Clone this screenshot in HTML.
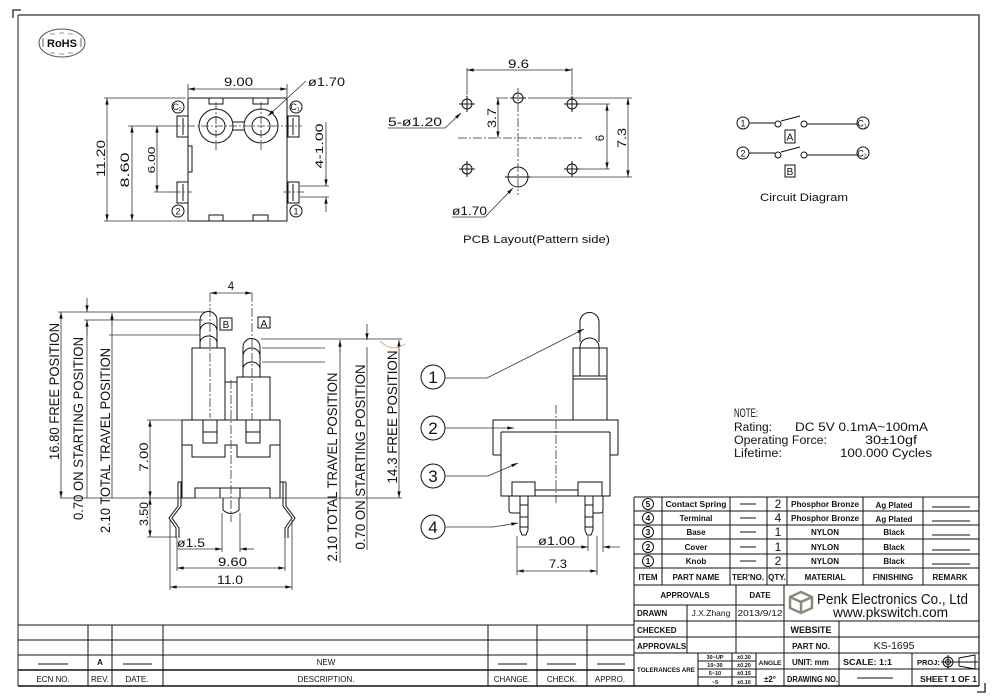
<!DOCTYPE html>
<html><head><meta charset="utf-8"><style>
html,body{margin:0;padding:0;background:#fff;}
svg{display:block;}
text{font-family:"Liberation Sans","DejaVu Sans",sans-serif;fill:#111;}
.b{font-weight:bold;}
</style></head><body>
<svg width="1000" height="700" viewBox="0 0 1000 700" xmlns="http://www.w3.org/2000/svg">
<defs>
<marker id="ar" viewBox="0 0 10 6" refX="10" refY="3" markerWidth="7" markerHeight="4" orient="auto-start-reverse" markerUnits="userSpaceOnUse"><path d="M0,0.5 L10,3 L0,5.5z" fill="#111"/></marker>
</defs>
<rect width="1000" height="700" fill="#fff"/>

<!-- FRAME -->
<g fill="none" stroke="#222">
<path d="M13,18 V10 H21" stroke-width="1.3"/>
<path d="M18,15 H979 V686" stroke="#555" stroke-width="1.6"/>
<path d="M18,15 V686" stroke="#444" stroke-width="1.2"/>
<path d="M977,692 H985 V683" stroke-width="1.3"/>
</g>

<!-- RoHS -->
<g fill="none" stroke="#555">
<ellipse cx="62" cy="43" rx="23" ry="14"/>
<path d="M50,34 h5 M59,33 h5 M68,34 h5 M50,53 h5 M59,54 h5 M68,53 h5" stroke="#999"/>
<path d="M43,38 v9 M81,38 v9" stroke="#666"/>
</g>
<text x="62" y="47" font-size="11" class="b" text-anchor="middle" fill="#333">RoHS</text>

<!-- TOP VIEW -->
<g fill="none" stroke="#111" stroke-width="1">
<rect x="188" y="98" width="99" height="123"/>
<path d="M209,98 v6 h14 v-6 M253,98 v6 h15 v-6 M209,221 v-6 h14 v6 M253,221 v-6 h15 v6"/>
<circle cx="216" cy="126" r="17"/><circle cx="216" cy="126" r="9"/>
<circle cx="261" cy="126" r="17"/><circle cx="261" cy="126" r="9"/>
<path d="M233,122 h11 M233,130 h11"/>
<rect x="177" y="116" width="11" height="21"/><rect x="177" y="182" width="11" height="21"/>
<rect x="288" y="116" width="11" height="21"/><rect x="288" y="182" width="11" height="21"/>
<path d="M183,118 v17 M183,184 v17 M293,118 v17 M293,184 v17"/>
<rect x="188" y="146" width="4" height="26"/>
<circle cx="178" cy="107" r="6"/><circle cx="296" cy="107" r="6"/>
<circle cx="178" cy="211" r="6"/><circle cx="296" cy="211" r="6"/>
</g>
<path d="M173,126 H302 M216,102 V150 M261,102 V150 M173,192 H192 M283,192 H304" fill="none" stroke="#333" stroke-width="0.8" stroke-dasharray="8 2 2 2"/>
<g font-size="9" text-anchor="middle">
<text x="177" y="110">C<tspan font-size="5" dy="1">2</tspan></text>
<text x="295" y="110">C<tspan font-size="5" dy="1">1</tspan></text>
<text x="178" y="214.5">2</text><text x="296" y="214.5">1</text>
</g>
<!-- top view dims -->
<g fill="none" stroke="#333" stroke-width="0.8">
<path d="M188,97 V84 M287,97 V84"/>
<path d="M188,89 H287" marker-start="url(#ar)" marker-end="url(#ar)"/>
<path d="M306,81 L268,116" marker-end="url(#ar)"/>
<path d="M104,98 H186 M104,221 H186 M128,126 H173 M154,192 H175"/>
<path d="M107,98 V221" marker-start="url(#ar)" marker-end="url(#ar)"/>
<path d="M132,126 V221" marker-start="url(#ar)" marker-end="url(#ar)"/>
<path d="M157,126 V192" marker-start="url(#ar)" marker-end="url(#ar)"/>
<path d="M300,186 H329 M300,197 H329 M326,122 V178"/>
<path d="M326,176 V186" marker-end="url(#ar)"/>
<path d="M326,212 V197" marker-end="url(#ar)"/>
</g>
<text x="238.5" y="86" font-size="11.5" text-anchor="middle" textLength="29" lengthAdjust="spacingAndGlyphs">9.00</text>
<text x="308" y="86" font-size="11.5" textLength="37" lengthAdjust="spacingAndGlyphs">ø1.70</text>
<text transform="translate(105,158.5) rotate(-90)" font-size="12" text-anchor="middle" textLength="37" lengthAdjust="spacingAndGlyphs">11.20</text>
<text transform="translate(129,170) rotate(-90)" font-size="12" text-anchor="middle" textLength="35" lengthAdjust="spacingAndGlyphs">8.60</text>
<text transform="translate(155,160) rotate(-90)" font-size="10.5" text-anchor="middle" textLength="27" lengthAdjust="spacingAndGlyphs">6.00</text>
<text transform="translate(323,146) rotate(-90)" font-size="11" text-anchor="middle" textLength="45" lengthAdjust="spacingAndGlyphs">4-1.00</text>

<!-- PCB LAYOUT -->
<g fill="none" stroke="#111" stroke-width="1">
<circle cx="467" cy="104" r="5"/><circle cx="518" cy="98" r="5"/><circle cx="572" cy="104" r="5"/>
<circle cx="467" cy="169" r="5"/><circle cx="572" cy="169" r="5"/>
<circle cx="518" cy="177" r="10"/>
<path d="M459,104 h16 M467,96 v16 M510,98 h16 M572,96 v16 M564,104 h16 M459,169 h16 M467,161 v16 M564,169 h16 M572,161 v16 M505,177 h26"/>
</g>
<path d="M458,138 H582 M518,88 V195" fill="none" stroke="#333" stroke-width="0.8" stroke-dasharray="9 2 2 2"/>
<g fill="none" stroke="#333" stroke-width="0.8">
<path d="M467,68 V95 M572,68 V95"/>
<path d="M467,70 H572" marker-start="url(#ar)" marker-end="url(#ar)"/>
<path d="M496,98 H508 M528,98 H632 M530,177 H632 M578,104 H610 M578,169 H610"/>
<path d="M628,98 V177" marker-start="url(#ar)" marker-end="url(#ar)"/>
<path d="M607,104 V169" marker-start="url(#ar)" marker-end="url(#ar)"/>
<path d="M498,98 V138" marker-start="url(#ar)" marker-end="url(#ar)"/>
<path d="M388,128 H445 L461,113" marker-end="url(#ar)"/>
<path d="M452,217 H485 L513,188" marker-end="url(#ar)"/>
</g>
<text x="518.5" y="68" font-size="11.5" text-anchor="middle" textLength="21" lengthAdjust="spacingAndGlyphs">9.6</text>
<text x="388" y="126" font-size="12" textLength="54" lengthAdjust="spacingAndGlyphs">5-ø1.20</text>
<text x="452" y="215" font-size="12" textLength="35" lengthAdjust="spacingAndGlyphs">ø1.70</text>
<text transform="translate(496,118) rotate(-90)" font-size="11.5" text-anchor="middle" textLength="20" lengthAdjust="spacingAndGlyphs">3.7</text>
<text transform="translate(604,138) rotate(-90)" font-size="11.5" text-anchor="middle">6</text>
<text transform="translate(626,138) rotate(-90)" font-size="11.5" text-anchor="middle" textLength="20" lengthAdjust="spacingAndGlyphs">7.3</text>
<text x="536.5" y="243" font-size="11" text-anchor="middle" textLength="147" lengthAdjust="spacingAndGlyphs">PCB Layout(Pattern side)</text>

<!-- CIRCUIT -->
<g fill="none" stroke="#111" stroke-width="1">
<circle cx="743" cy="123" r="6"/><circle cx="863" cy="123" r="6"/>
<circle cx="743" cy="153" r="6"/><circle cx="863" cy="153" r="6"/>
<path d="M749,123 H775 M807,124 H857 M749,153 H775 M807,155 H857"/>
<circle cx="778" cy="124" r="3"/><circle cx="804" cy="124" r="3"/>
<circle cx="778" cy="155" r="3"/><circle cx="804" cy="155" r="3"/>
<path d="M781,121 L800,116 M781,152 L800,147"/>
<rect x="785" y="130" width="10" height="13"/><rect x="785" y="165" width="10" height="12"/>
</g>
<g font-size="9" text-anchor="middle">
<text x="743" y="126.5">1</text><text x="743" y="156.5">2</text>
<text x="862" y="126.5">C<tspan font-size="5" dy="1">1</tspan></text>
<text x="862" y="156.5">C<tspan font-size="5" dy="1">2</tspan></text>
<text x="790" y="140.5" font-size="10">A</text><text x="790" y="175" font-size="10">B</text>
</g>
<text x="804" y="201" font-size="11" text-anchor="middle" textLength="88" lengthAdjust="spacingAndGlyphs">Circuit Diagram</text>

<!-- LEFT SIDE VIEW -->
<g fill="none" stroke="#111" stroke-width="1">
<path d="M200,348 V320 A8.5,8.5 0 0 1 217,320 V348"/>
<path d="M200,331 A8.5,8 0 0 1 217,331 M200,343 A8.5,7 0 0 1 217,343"/>
<rect x="192" y="348" width="33" height="72"/>
<path d="M243,377 V347 A8.5,8.5 0 0 1 260,347 V377"/>
<path d="M243,356 A8.5,8 0 0 1 260,356 M243,369 A8.5,7 0 0 1 260,369"/>
<rect x="237" y="377" width="33" height="43"/>
<path d="M225,420 V382 H237"/>
<path d="M182,420 H280 V498 H270 V488 H195 V498 H182 Z"/>
<rect x="203" y="420" width="14" height="23"/><path d="M203,432 h14"/>
<rect x="246" y="420" width="14" height="23"/><path d="M246,432 h14"/>
<path d="M182,445 H192 V457 H225 V445 H237 V457 H270 V445 H280"/>
<path d="M220,498 V488 M240,498 V488"/>
<path d="M223,498 V510 Q231,517 239,510 V498"/>
<path d="M178,482 V506 L169,518 L176,528 V538 M181,482 V506 L172,518 L179,528 V538 M178,482 H182"/>
<path d="M283,482 V506 L292,518 L285,528 V538 M286,482 V506 L295,518 L288,528 V538 M280,482 H286"/>
<rect x="220" y="318" width="12" height="12"/><rect x="258" y="317" width="12" height="11"/>
</g>
<path d="M210,293 V418 M252,293 V420 M231,380 V522" fill="none" stroke="#333" stroke-width="0.8" stroke-dasharray="9 2 2 2"/>
<text x="226" y="328" font-size="10" text-anchor="middle">B</text>
<text x="264" y="327" font-size="10" text-anchor="middle">A</text>
<g fill="none" stroke="#333" stroke-width="0.8">
<path d="M210,293 H252" marker-start="url(#ar)" marker-end="url(#ar)"/>
<path d="M58,312 H206 M84,320 H203 M109,335 H200 M60,498 H402"/>
<path d="M61,312 V498" marker-start="url(#ar)" marker-end="url(#ar)"/>
<path d="M87,320 V498"/>
<path d="M87,298 V312" marker-end="url(#ar)"/>
<path d="M87,335 V320" marker-end="url(#ar)"/>
<path d="M112,313 V498"/>
<path d="M112,325 V313" marker-end="url(#ar)"/>
<path d="M147,420 H182 M147,537 H177"/>
<path d="M150,420 V498" marker-start="url(#ar)" marker-end="url(#ar)"/>
<path d="M150,498 V537" marker-start="url(#ar)" marker-end="url(#ar)"/>
<path d="M222,513 V552 M240,513 V552"/>
<path d="M177,549 H222" marker-end="url(#ar)"/>
<path d="M254,549 H240" marker-end="url(#ar)"/>
<path d="M177,538 V571 M285,538 V571 M170,520 V590 M292,520 V590"/>
<path d="M177,568 H285" marker-start="url(#ar)" marker-end="url(#ar)"/>
<path d="M170,587 H292" marker-start="url(#ar)" marker-end="url(#ar)"/>
<!-- middle dims -->
<path d="M261,339 H402 M262,348 H325 M262,362 H325"/>
<path d="M340,340 V563"/>
<path d="M340,352 V340" marker-end="url(#ar)"/>
<path d="M367,347 V550"/>
<path d="M367,324 V340" marker-end="url(#ar)"/>
<path d="M399,340 V498" marker-start="url(#ar)" marker-end="url(#ar)"/>
</g>
<path d="M380,341 Q392,353 405,344" fill="none" stroke="#f0a070" stroke-width="1"/>
<text x="231" y="290" font-size="11.5" text-anchor="middle">4</text>
<text transform="translate(59,391.5) rotate(-90)" font-size="13.5" text-anchor="middle" textLength="137" lengthAdjust="spacingAndGlyphs">16.80 FREE POSITION</text>
<text transform="translate(83,428.5) rotate(-90)" font-size="13.5" text-anchor="middle" textLength="183" lengthAdjust="spacingAndGlyphs">0.70 ON STARTING POSITION</text>
<text transform="translate(110,440.5) rotate(-90)" font-size="13.5" text-anchor="middle" textLength="185" lengthAdjust="spacingAndGlyphs">2.10 TOTAL TRAVEL POSITION</text>
<text transform="translate(148,457) rotate(-90)" font-size="12" text-anchor="middle" textLength="29" lengthAdjust="spacingAndGlyphs">7.00</text>
<text transform="translate(148,514) rotate(-90)" font-size="12" text-anchor="middle" textLength="24" lengthAdjust="spacingAndGlyphs">3.50</text>
<text x="177" y="547" font-size="12" textLength="28" lengthAdjust="spacingAndGlyphs">ø1.5</text>
<text x="232.5" y="566" font-size="12" text-anchor="middle" textLength="29" lengthAdjust="spacingAndGlyphs">9.60</text>
<text x="230" y="584" font-size="12" text-anchor="middle" textLength="26" lengthAdjust="spacingAndGlyphs">11.0</text>
<text transform="translate(337,467) rotate(-90)" font-size="13.5" text-anchor="middle" textLength="189" lengthAdjust="spacingAndGlyphs">2.10 TOTAL TRAVEL POSITION</text>
<text transform="translate(365,457) rotate(-90)" font-size="13.5" text-anchor="middle" textLength="185" lengthAdjust="spacingAndGlyphs">0.70 ON STARTING POSITION</text>
<text transform="translate(397,417) rotate(-90)" font-size="13.5" text-anchor="middle" textLength="133" lengthAdjust="spacingAndGlyphs">14.3 FREE POSITION</text>

<!-- RIGHT VIEW -->
<g fill="none" stroke="#111" stroke-width="1">
<path d="M580,342 V322 A9.5,9.5 0 0 1 599,322 V342"/>
<path d="M580,376 V347 A9.5,9 0 0 1 599,347 V376"/>
<rect x="573" y="348" width="34" height="72"/>
<path d="M573,376 H607 M573,379 H607"/>
<path d="M493,455 V420 H618 V455 M501,432 H610 M493,455 H501 M610,455 H618"/>
<path d="M501,432 V496 H610 V432"/>
<rect x="512" y="482" width="23" height="14"/><rect x="578" y="482" width="24" height="14"/>
<path d="M535,490 H578"/>
<path d="M520,496 V530 L522,535 H526 L528,530 V496 M520,505 h8 M520,517 h8 M520,527 h8 M509,496 V510 Q509,513 512,513 H520"/>
<path d="M585,496 V530 L587,535 H591 L593,530 V496 M585,505 h8 M585,517 h8 M585,527 h8 M603,496 V510 Q603,513 600,513 H593"/>
<circle cx="433" cy="377" r="12"/><circle cx="433" cy="428" r="12"/>
<circle cx="433" cy="476" r="12"/><circle cx="433" cy="527" r="12"/>
</g>
<path d="M556,405 V503" fill="none" stroke="#333" stroke-width="0.8" stroke-dasharray="9 2 2 2"/>
<g fill="none" stroke="#333" stroke-width="0.8">
<path d="M445,378 H487 L584,329" marker-end="url(#ar)"/>
<path d="M445,428 H514" marker-end="url(#ar)"/>
<path d="M445,476 H488 L518,463" marker-end="url(#ar)"/>
<path d="M445,527 H493 L518,523" marker-end="url(#ar)"/>
<path d="M517,536 V575 M597,536 V575 M588,536 V551 M603,512 V552"/>
<path d="M517,547 H588" marker-end="url(#ar)"/>
<path d="M620,547 H603" marker-end="url(#ar)"/>
<path d="M517,571 H597" marker-start="url(#ar)" marker-end="url(#ar)"/>
</g>
<g font-size="17" text-anchor="middle">
<text x="433" y="383">1</text><text x="433" y="434">2</text>
<text x="433" y="482">3</text><text x="433" y="533">4</text>
</g>
<text x="538" y="545" font-size="12" textLength="37" lengthAdjust="spacingAndGlyphs">ø1.00</text>
<text x="558" y="568" font-size="12" text-anchor="middle" textLength="18" lengthAdjust="spacingAndGlyphs">7.3</text>

<!-- NOTES -->
<g font-size="11.5">
<text x="734" y="417" textLength="24" lengthAdjust="spacingAndGlyphs">NOTE:</text>
<text x="734" y="431" textLength="38" lengthAdjust="spacingAndGlyphs">Rating:</text>
<text x="795" y="431" textLength="133" lengthAdjust="spacingAndGlyphs">DC 5V 0.1mA~100mA</text>
<text x="734" y="444" textLength="93" lengthAdjust="spacingAndGlyphs">Operating Force:</text>
<text x="865" y="444" textLength="52" lengthAdjust="spacingAndGlyphs">30±10gf</text>
<text x="734" y="457" textLength="48" lengthAdjust="spacingAndGlyphs">Lifetime:</text>
<text x="840" y="457" textLength="92" lengthAdjust="spacingAndGlyphs">100.000 Cycles</text>
</g>

<!-- BOM TABLE -->
<g fill="none" stroke="#111" stroke-width="1">
<path d="M634,497 H979 M634,511 H979 M634,525 H979 M634,539 H979 M634,554 H979 M634,568 H979 M634,585 H979"/>
<path d="M634,497 V686 M662,497 V585 M730,497 V585 M767,497 V585 M787,497 V585 M863,497 V585 M923,497 V585"/>
<path d="M740,504 h16 M740,518 h16 M740,532 h16 M740,547 h16 M740,561 h16"/>
<path d="M932,507 h38 M932,521 h38 M932,535 h38 M932,550 h38 M932,564 h38"/>
<circle cx="648" cy="504" r="5.5"/><circle cx="648" cy="518" r="5.5"/><circle cx="648" cy="532" r="5.5"/>
<circle cx="648" cy="547" r="5.5"/><circle cx="648" cy="561" r="5.5"/>
</g>
<g font-size="8" class="b" text-anchor="middle">
<text x="648" y="507" font-size="8.5">5</text><text x="648" y="521" font-size="8.5">4</text><text x="648" y="535" font-size="8.5">3</text>
<text x="648" y="550" font-size="8.5">2</text><text x="648" y="564" font-size="8.5">1</text>
<text x="696" y="507" textLength="61" lengthAdjust="spacingAndGlyphs">Contact Spring</text>
<text x="696" y="521">Terminal</text><text x="696" y="535">Base</text>
<text x="696" y="550">Cover</text><text x="696" y="564">Knob</text>
<text x="778" y="508" font-size="12" font-weight="normal">2</text>
<text x="778" y="522" font-size="12" font-weight="normal">4</text>
<text x="778" y="536" font-size="12" font-weight="normal">1</text>
<text x="778" y="551" font-size="12" font-weight="normal">1</text>
<text x="778" y="565" font-size="12" font-weight="normal">2</text>
<text x="825" y="507" textLength="68" lengthAdjust="spacingAndGlyphs">Phosphor Bronze</text>
<text x="825" y="521" textLength="68" lengthAdjust="spacingAndGlyphs">Phosphor Bronze</text>
<text x="825" y="535">NYLON</text><text x="825" y="550">NYLON</text><text x="825" y="564">NYLON</text>
<text x="894" y="508">Ag Plated</text><text x="894" y="522">Ag Plated</text>
<text x="894" y="535">Black</text><text x="894" y="550">Black</text><text x="894" y="564">Black</text>
<text x="648" y="580">ITEM</text><text x="696" y="580">PART NAME</text>
<text x="748" y="580">TER'NO.</text><text x="777" y="580">QTY.</text>
<text x="825" y="580">MATERIAL</text><text x="893" y="580">FINISHING</text><text x="950" y="580">REMARK</text>
</g>

<!-- APPROVALS / TITLE BLOCK -->
<g fill="none" stroke="#111" stroke-width="1">
<path d="M634,605 H784 M634,621 H979 M634,637 H979 M634,653 H979 M784,669 H979"/>
<path d="M18,686 H979" stroke-width="1.4"/>
<path d="M687,605 V653 M736,585 V653 M784,585 V686 M839,621 V686 M912,653 V686"/>
<path d="M698,653 V686 M732,653 V686 M756,653 V686 M698,661 H756 M698,669 H756 M698,677 H756 M756,669 H784"/>
<!-- revision table -->
<path d="M18,625 H634 M18,640 H634 M18,655 H634"/>
<path d="M18,670 H634" stroke-width="1.4"/>
<path d="M88,625 V686 M112,625 V686 M163,625 V686 M488,625 V686 M537,625 V686 M587,625 V686"/>
<path d="M38,664 h30 M123,664 h29 M498,664 h29 M547,664 h29 M597,664 h28"/>
<path d="M857,678 h36"/>
<!-- projection symbol -->
<circle cx="948" cy="662" r="5"/><circle cx="948" cy="662" r="2.5"/>
<path d="M941,662 h14 M948,655 v14 M955,662 H978 M959,658 L975,655 V669 L959,666 Z"/>
</g>
<g font-size="8" class="b">
<text x="685" y="598" text-anchor="middle">APPROVALS</text>
<text x="760" y="598" text-anchor="middle">DATE</text>
<text x="637" y="616">DRAWN</text>
<text x="711" y="616" text-anchor="middle" font-weight="normal" font-size="8.5">J.X.Zhang</text>
<text x="760" y="616" text-anchor="middle" font-weight="normal" font-size="8.5" textLength="45" lengthAdjust="spacingAndGlyphs">2013/9/12</text>
<text x="637" y="633">CHECKED</text>
<text x="637" y="649">APPROVALS</text>
<text x="637" y="672" font-size="6.5" textLength="58" lengthAdjust="spacingAndGlyphs">TOLERANCES ARE</text>
<text x="770" y="665" text-anchor="middle" font-size="6.5">ANGLE</text>
<text x="770" y="682" text-anchor="middle">±2°</text>
<text x="811" y="633" text-anchor="middle" font-size="9">WEBSITE</text>
<text x="811" y="649" text-anchor="middle">PART NO.</text>
<text x="894" y="649" text-anchor="middle" font-size="10.5" font-weight="normal">KS-1695</text>
<text x="792" y="665">UNIT: mm</text>
<text x="843" y="665" textLength="49" lengthAdjust="spacingAndGlyphs">SCALE:   1:1</text>
<text x="917" y="665" font-size="7.5">PROJ:</text>
<text x="787" y="682" textLength="51" lengthAdjust="spacingAndGlyphs">DRAWING NO.</text>
<text x="920" y="682" textLength="57" lengthAdjust="spacingAndGlyphs">SHEET  1  OF  1</text>
</g>
<g font-size="5.5" text-anchor="middle" class="b">
<text x="715" y="659">30~UP</text><text x="744" y="659">±0.30</text>
<text x="715" y="667">10~30</text><text x="744" y="667">±0.20</text>
<text x="715" y="675">5~10</text><text x="744" y="675">±0.15</text>
<text x="715" y="684">~5</text><text x="744" y="684">±0.10</text>
</g>
<!-- logo -->
<g fill="none" stroke="#8a8a7a" stroke-width="2.5">
<path d="M801,592 L812,597 V608 L801,613 L790,608 V597 Z M790,597 L801,602 L812,597 M801,602 V613"/>
</g>
<text x="817" y="604" font-size="14.5" fill="#666" textLength="151" lengthAdjust="spacingAndGlyphs">Penk Electronics Co., Ltd</text>
<text x="833" y="617" font-size="14" fill="#666" textLength="115" lengthAdjust="spacingAndGlyphs">www.pkswitch.com</text>

<!-- revision table text -->
<g font-size="8" text-anchor="middle">
<text x="53" y="682">ECN NO.</text><text x="100" y="682">REV.</text><text x="137" y="682">DATE.</text>
<text x="326" y="682">DESCRIPTION.</text><text x="512" y="682">CHANGE.</text>
<text x="562" y="682">CHECK.</text><text x="610" y="682">APPRO.</text>
<text x="100" y="665" class="b">A</text><text x="326" y="665">NEW</text>
</g>
</svg>
</body></html>
